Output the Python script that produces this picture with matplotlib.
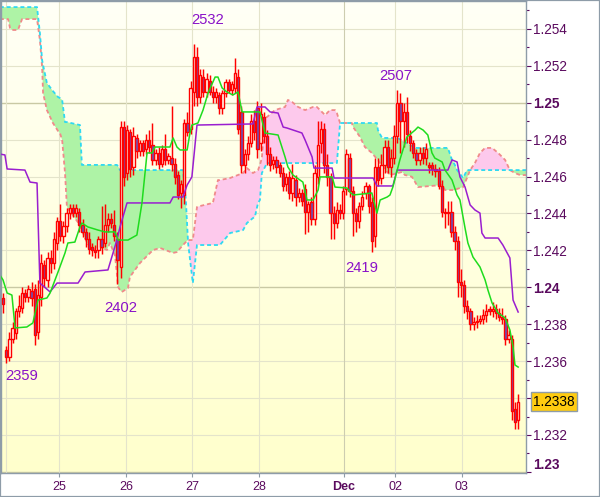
import numpy as np
import matplotlib
matplotlib.use("Agg")
import matplotlib.pyplot as plt
import matplotlib.transforms as mtransforms
from matplotlib import font_manager as fm
from matplotlib.patches import Rectangle

# ---------------- data ----------------
opens = [
    1.2394, 1.2366, 1.2362, 1.2372, 1.2375, 1.2387, 1.2389, 1.2397, 1.2395, 1.2398,
    1.2399, 1.2376, 1.2395, 1.2412, 1.2404, 1.2416, 1.2413, 1.2424, 1.2436, 1.2428,
    1.2433, 1.2440, 1.2443, 1.2440, 1.2441, 1.2434, 1.2430, 1.2426, 1.2422, 1.2420,
    1.2420, 1.2426, 1.2424, 1.2434, 1.2437, 1.2434, 1.2426, 1.2411, 1.2487, 1.2462,
    1.2484, 1.2465, 1.2481, 1.2474, 1.2478, 1.2475, 1.2480, 1.2477, 1.2469, 1.2473,
    1.2467, 1.2475, 1.2469, 1.2470, 1.2467, 1.2461, 1.2451, 1.2450, 1.2489, 1.2486,
    1.2506, 1.2525, 1.2503, 1.2514, 1.2506, 1.2512, 1.2506, 1.2503, 1.2504, 1.2497,
    1.2505, 1.2511, 1.2507, 1.2508, 1.2514, 1.2495, 1.2466, 1.2472, 1.2478, 1.2490,
    1.2497, 1.2478, 1.2492, 1.2482, 1.2472, 1.2467, 1.2469, 1.2466, 1.2462, 1.2456,
    1.2460, 1.2451, 1.2458, 1.2449, 1.2451, 1.2453, 1.2441, 1.2446, 1.2437, 1.2460,
    1.2478, 1.2486, 1.2466, 1.2460, 1.2440, 1.2435, 1.2442, 1.2440, 1.2453, 1.2470,
    1.2452, 1.2440, 1.2436, 1.2444, 1.2451, 1.2455, 1.2446, 1.2428, 1.2465, 1.2459,
    1.2466, 1.2476, 1.2465, 1.2470, 1.2482, 1.2500, 1.2490, 1.2495, 1.2482, 1.2478,
    1.2473, 1.2469, 1.2473, 1.2470, 1.2466, 1.2466, 1.2464, 1.2463, 1.2455, 1.2441,
    1.2440, 1.2441, 1.2430, 1.2425, 1.2403, 1.2401, 1.2390, 1.2387, 1.2380, 1.2381,
    1.2382, 1.2383, 1.2385, 1.2388, 1.2387, 1.2388, 1.2386, 1.2384, 1.2383, 1.2372,
    1.2372, 1.2334, 1.2328,
]
highs = [
    1.2397, 1.2368, 1.2376, 1.2381, 1.2389, 1.2396, 1.2400, 1.2399, 1.2401, 1.2403,
    1.2402, 1.2404, 1.2418, 1.2415, 1.2419, 1.2420, 1.2430, 1.2438, 1.2445, 1.2436,
    1.2443, 1.2445, 1.2445, 1.2445, 1.2443, 1.2437, 1.2432, 1.2430, 1.2424, 1.2423,
    1.2428, 1.2444, 1.2445, 1.2440, 1.2440, 1.2442, 1.2430, 1.2490, 1.2490, 1.2488,
    1.2486, 1.2487, 1.2483, 1.2480, 1.2480, 1.2483, 1.2485, 1.2489, 1.2475, 1.2476,
    1.2477, 1.2483, 1.2473, 1.2498, 1.2470, 1.2463, 1.2458, 1.2491, 1.2495, 1.2512,
    1.2532, 1.2530, 1.2518, 1.2518, 1.2516, 1.2515, 1.2509, 1.2508, 1.2506, 1.2507,
    1.2513, 1.2513, 1.2512, 1.2524, 1.2518, 1.2498, 1.2475, 1.2482, 1.2494, 1.2496,
    1.2501, 1.2500, 1.2495, 1.2485, 1.2476, 1.2471, 1.2471, 1.2468, 1.2465, 1.2462,
    1.2463, 1.2467, 1.2461, 1.2454, 1.2453, 1.2456, 1.2447, 1.2449, 1.2466, 1.2490,
    1.2490, 1.2489, 1.2472, 1.2462, 1.2444, 1.2446, 1.2445, 1.2455, 1.2475, 1.2473,
    1.2455, 1.2443, 1.2446, 1.2452, 1.2457, 1.2456, 1.2449, 1.2470, 1.2470, 1.2472,
    1.2480, 1.2480, 1.2475, 1.2488, 1.2507, 1.2505, 1.2500, 1.2503, 1.2485, 1.2480,
    1.2475, 1.2476, 1.2476, 1.2478, 1.2468, 1.2468, 1.2467, 1.2465, 1.2458, 1.2443,
    1.2447, 1.2447, 1.2433, 1.2428, 1.2410, 1.2404, 1.2393, 1.2389, 1.2384, 1.2385,
    1.2385, 1.2388, 1.2391, 1.2390, 1.2392, 1.2391, 1.2389, 1.2389, 1.2385, 1.2377,
    1.2374, 1.2338, 1.2342,
]
lows = [
    1.2386, 1.2359, 1.2360, 1.2370, 1.2372, 1.2384, 1.2386, 1.2392, 1.2392, 1.2390,
    1.2369, 1.2372, 1.2390, 1.2400, 1.2400, 1.2408, 1.2410, 1.2420, 1.2425, 1.2424,
    1.2430, 1.2437, 1.2438, 1.2438, 1.2430, 1.2427, 1.2422, 1.2418, 1.2417, 1.2416,
    1.2416, 1.2418, 1.2422, 1.2430, 1.2432, 1.2425, 1.2402, 1.2405, 1.2455, 1.2458,
    1.2460, 1.2461, 1.2470, 1.2471, 1.2471, 1.2472, 1.2473, 1.2466, 1.2466, 1.2464,
    1.2465, 1.2466, 1.2467, 1.2463, 1.2456, 1.2448, 1.2443, 1.2445, 1.2482, 1.2483,
    1.2498, 1.2498, 1.2500, 1.2503, 1.2503, 1.2504, 1.2500, 1.2500, 1.2494, 1.2494,
    1.2503, 1.2505, 1.2504, 1.2505, 1.2483, 1.2462, 1.2462, 1.2469, 1.2476, 1.2480,
    1.2470, 1.2474, 1.2478, 1.2466, 1.2463, 1.2464, 1.2462, 1.2460, 1.2452, 1.2452,
    1.2448, 1.2447, 1.2444, 1.2446, 1.2444, 1.2429, 1.2430, 1.2434, 1.2434, 1.2456,
    1.2473, 1.2462, 1.2455, 1.2426, 1.2426, 1.2432, 1.2437, 1.2437, 1.2450, 1.2449,
    1.2428, 1.2430, 1.2432, 1.2442, 1.2448, 1.2440, 1.2419, 1.2422, 1.2455, 1.2456,
    1.2462, 1.2462, 1.2460, 1.2467, 1.2478, 1.2473, 1.2476, 1.2478, 1.2474, 1.2470,
    1.2466, 1.2466, 1.2467, 1.2466, 1.2462, 1.2461, 1.2460, 1.2453, 1.2438, 1.2432,
    1.2434, 1.2427, 1.2420, 1.2395, 1.2395, 1.2386, 1.2383, 1.2377, 1.2377, 1.2378,
    1.2380, 1.2380, 1.2381, 1.2385, 1.2384, 1.2383, 1.2382, 1.2380, 1.2369, 1.2370,
    1.2328, 1.2323, 1.2323,
]
closes = [
    1.2391, 1.2362, 1.2372, 1.2378, 1.2387, 1.2390, 1.2397, 1.2395, 1.2399, 1.2394,
    1.2374, 1.2396, 1.2413, 1.2405, 1.2416, 1.2413, 1.2426, 1.2436, 1.2428, 1.2433,
    1.2440, 1.2443, 1.2440, 1.2443, 1.2434, 1.2430, 1.2426, 1.2421, 1.2420, 1.2419,
    1.2426, 1.2422, 1.2434, 1.2437, 1.2435, 1.2428, 1.2415, 1.2487, 1.2460, 1.2485,
    1.2464, 1.2482, 1.2474, 1.2478, 1.2474, 1.2480, 1.2476, 1.2469, 1.2473, 1.2467,
    1.2475, 1.2469, 1.2471, 1.2467, 1.2460, 1.2450, 1.2456, 1.2489, 1.2484, 1.2508,
    1.2525, 1.2503, 1.2515, 1.2506, 1.2513, 1.2506, 1.2503, 1.2506, 1.2497, 1.2505,
    1.2511, 1.2507, 1.2510, 1.2516, 1.2486, 1.2466, 1.2472, 1.2478, 1.2490, 1.2484,
    1.2475, 1.2494, 1.2482, 1.2472, 1.2466, 1.2469, 1.2465, 1.2462, 1.2455, 1.2460,
    1.2451, 1.2459, 1.2449, 1.2451, 1.2447, 1.2441, 1.2445, 1.2437, 1.2462, 1.2477,
    1.2486, 1.2466, 1.2460, 1.2440, 1.2435, 1.2442, 1.2440, 1.2452, 1.2472, 1.2452,
    1.2440, 1.2436, 1.2444, 1.2449, 1.2455, 1.2444, 1.2425, 1.2465, 1.2458, 1.2466,
    1.2476, 1.2465, 1.2470, 1.2482, 1.2500, 1.2490, 1.2495, 1.2483, 1.2478, 1.2473,
    1.2469, 1.2473, 1.2470, 1.2475, 1.2465, 1.2464, 1.2463, 1.2455, 1.2441, 1.2440,
    1.2441, 1.2430, 1.2425, 1.2403, 1.2401, 1.2390, 1.2387, 1.2380, 1.2381, 1.2382,
    1.2383, 1.2385, 1.2387, 1.2387, 1.2388, 1.2386, 1.2384, 1.2383, 1.2372, 1.2374,
    1.2333, 1.2327, 1.2338,
]

# Tenkan-sen (green) and Kijun-sen (purple): bar position, price
tenkan_x = [-1.0, 0.0, 1.3, 2.8, 3.8, 7.5, 9.4, 11.0, 13.8, 14.8,
            17.3, 19.5, 20.4, 22.6, 24.2, 24.8, 26.7, 29.9, 32.1, 35.2,
            36.2, 39.3, 42.1, 43.7, 45.3, 46.9, 47.8, 52.5, 53.5, 54.7,
            55.7, 57.9, 58.8, 59.4, 61.3, 62.9, 64.5, 66.7, 67.6, 68.9,
            70.4, 72.3, 73.9, 75.2, 80.8, 82.4, 86.5, 88.7, 89.6, 91.2,
            94.3, 95.6, 97.5, 99.1, 99.7, 103.5, 104.4, 108.2, 109.1, 110.1,
            116.0, 117.6, 118.6, 120.8, 121.7, 122.6, 124.8, 127.0, 129.6, 130.5,
            132.1, 133.6, 134.9, 135.8, 138.1, 139.0, 141.2, 142.8, 143.7, 145.3,
            146.2, 147.8, 150.0, 151.6, 152.5, 153.8, 155.7, 157.9, 159.4, 160.4,
            161.0, 162.0]
tenkan_y = [1.24067, 1.24040, 1.23969, 1.23958, 1.23780, 1.23785, 1.23807, 1.23931, 1.23942, 1.23969,
            1.24083, 1.24186, 1.24240, 1.24245, 1.24327, 1.24348, 1.24327, 1.24310, 1.24300, 1.24300,
            1.24256, 1.24256, 1.24283, 1.24457, 1.24728, 1.24728, 1.24760, 1.24760, 1.24809, 1.24760,
            1.24744, 1.24744, 1.24836, 1.24879, 1.24890, 1.24960, 1.25053, 1.25139, 1.25139, 1.25080,
            1.25058, 1.25042, 1.25058, 1.24950, 1.24950, 1.24836, 1.24825, 1.24706, 1.24652, 1.24608,
            1.24570, 1.24473, 1.24473, 1.24527, 1.24598, 1.24598, 1.24543, 1.24538, 1.24516, 1.24500,
            1.24511, 1.24402, 1.24473, 1.24489, 1.24500, 1.24543, 1.24690, 1.24814, 1.24852, 1.24868,
            1.24852, 1.24825, 1.24728, 1.24700, 1.24679, 1.24635, 1.24581, 1.24500, 1.24473, 1.24321,
            1.24240, 1.24164, 1.24110, 1.24040, 1.23985, 1.23915, 1.23861, 1.23834, 1.23769, 1.23677,
            1.23579, 1.23568]

kijun_x = [-1.0, 0.6, 1.3, 6.9, 8.5, 10.7, 11.6, 14.8, 17.0, 23.6,
           25.8, 33.0, 34.6, 35.8, 36.8, 39.0, 52.5, 53.5, 56.6, 57.9,
           59.4, 61.0, 78.6, 79.9, 82.4, 84.0, 86.5, 88.1, 89.3, 94.0,
           95.0, 97.2, 97.8, 103.5, 104.1, 116.4, 117.6, 122.6, 123.9, 139.9,
           141.2, 142.8, 143.7, 145.3, 146.9, 148.4, 150.0, 150.6, 151.6, 155.7,
           157.2, 159.4, 160.4, 162.0]
kijun_y = [1.24722, 1.24717, 1.24641, 1.24635, 1.24570, 1.24565, 1.24023, 1.23975, 1.24023, 1.24023,
           1.24083, 1.24094, 1.24186, 1.24256, 1.24327, 1.24457, 1.24457, 1.24489, 1.24489, 1.24554,
           1.24598, 1.24879, 1.24885, 1.24977, 1.24977, 1.24950, 1.24944, 1.24868, 1.24863, 1.24836,
           1.24798, 1.24706, 1.24646, 1.24646, 1.24592, 1.24592, 1.24549, 1.24549, 1.24635, 1.24635,
           1.24690, 1.24679, 1.24598, 1.24543, 1.24446, 1.24419, 1.24402, 1.24294, 1.24267, 1.24267,
           1.24229, 1.24159, 1.23931, 1.23866]

# Cloud: Senkou span A (cyan) and span B (salmon)
cloud_x = [-1.0, 1.6, 2.2, 2.8, 4.7, 5.3, 6.0, 10.7, 11.6, 12.3,
           12.6, 13.8, 15.7, 17.3, 17.9, 18.6, 19.5, 20.1, 24.2, 24.8,
           26.4, 28.3, 30.5, 32.7, 33.6, 35.2, 35.8, 36.2, 36.8, 37.4,
           39.3, 39.9, 43.1, 47.2, 49.4, 53.5, 54.7, 56.6, 57.5, 58.2,
           59.7, 61.0, 61.9, 66.0, 67.6, 68.2, 71.4, 75.5, 76.7, 78.6,
           79.2, 80.2, 80.8, 81.4, 82.4, 83.0, 85.5, 88.7, 89.6, 90.9,
           92.8, 95.0, 97.5, 98.7, 101.3, 102.8, 104.4, 105.0, 106.0, 109.7,
           110.1, 112.3, 113.8, 116.0, 117.6, 117.9, 119.2, 119.5, 121.7, 124.2,
           125.5, 126.4, 128.0, 128.6, 129.6, 130.5, 138.1, 139.0, 139.9, 141.2,
           142.1, 142.8, 144.7, 145.9, 146.9, 148.4, 150.0, 151.6, 153.8, 155.7,
           157.9, 159.4, 161.0, 162.6, 164.5]
span_a = [1.25518, 1.25518, 1.25518, 1.25518, 1.25518, 1.25518, 1.25518, 1.25518, 1.25378, 1.25231,
          1.25204, 1.25107, 1.25063, 1.25031, 1.25025, 1.25015, 1.24895, 1.24895, 1.24879, 1.24663,
          1.24663, 1.24663, 1.24663, 1.24663, 1.24663, 1.24663, 1.24663, 1.24657, 1.24635, 1.24635,
          1.24635, 1.24635, 1.24635, 1.24635, 1.24635, 1.24635, 1.24635, 1.24635, 1.24473, 1.24240,
          1.24023, 1.24229, 1.24229, 1.24229, 1.24229, 1.24229, 1.24294, 1.24310, 1.24348, 1.24375,
          1.24381, 1.24457, 1.24473, 1.24619, 1.24652, 1.24673, 1.24673, 1.24673, 1.24673, 1.24673,
          1.24673, 1.24673, 1.24673, 1.24673, 1.24673, 1.24673, 1.24673, 1.24673, 1.24890, 1.24890,
          1.24890, 1.24890, 1.24890, 1.24890, 1.24890, 1.24852, 1.24809, 1.24809, 1.24809, 1.24809,
          1.24793, 1.24787, 1.24771, 1.24765, 1.24755, 1.24755, 1.24755, 1.24755, 1.24755, 1.24690,
          1.24663, 1.24635, 1.24592, 1.24635, 1.24635, 1.24635, 1.24635, 1.24635, 1.24635, 1.24635,
          1.24635, 1.24635, 1.24635, 1.24635, 1.24635]
span_b = [1.25453, 1.25453, 1.25405, 1.25394, 1.25394, 1.25421, 1.25453, 1.25453, 1.25340, 1.25193,
          1.25053, 1.24960, 1.24890, 1.24847, 1.24836, 1.24798, 1.24619, 1.24435, 1.24337, 1.24310,
          1.24240, 1.24202, 1.24218, 1.24202, 1.24240, 1.24175, 1.24077, 1.24002, 1.23985, 1.23975,
          1.23996, 1.24056, 1.24132, 1.24202, 1.24213, 1.24186, 1.24191, 1.24229, 1.24245, 1.24256,
          1.24256, 1.24435, 1.24440, 1.24457, 1.24581, 1.24581, 1.24592, 1.24619, 1.24646, 1.24619,
          1.24625, 1.24635, 1.24663, 1.24700, 1.24922, 1.24922, 1.24960, 1.24977, 1.25015, 1.25004,
          1.24977, 1.24960, 1.24977, 1.24977, 1.24933, 1.24960, 1.24960, 1.24944, 1.24890, 1.24890,
          1.24868, 1.24814, 1.24760, 1.24728, 1.24695, 1.24690, 1.24657, 1.24652, 1.24608, 1.24619,
          1.24625, 1.24608, 1.24603, 1.24598, 1.24570, 1.24543, 1.24554, 1.24527, 1.24527, 1.24527,
          1.24527, 1.24533, 1.24543, 1.24592, 1.24635, 1.24673, 1.24728, 1.24755, 1.24755, 1.24728,
          1.24690, 1.24635, 1.24619, 1.24608, 1.24608]

# time axis labels (bar positions) and price levels
day_ticks = [17.6, 38.7, 59.4, 80.5, 107.2, 123.3, 144.3]
day_labels = ["25", "26", "27", "28", "Dec", "02", "03"]
week_start = [0.94]
price_levels = [1.230, 1.232, 1.234, 1.236, 1.238, 1.240, 1.242,
                1.244, 1.246, 1.248, 1.250, 1.252, 1.254]
price_minor = [1.231, 1.233, 1.235, 1.237, 1.239, 1.241, 1.243,
               1.245, 1.247, 1.249, 1.251, 1.253, 1.255]

# marked extremes (bar index, which side)
marked_bars = [1, 36, 60, 116, 124]
marked_side = ["low", "low", "high", "low", "high"]

# ---------------- style ----------------
def has_font(name):
    try:
        fm.findfont(fm.FontProperties(family=name), fallback_to_default=False)
        return True
    except Exception:
        return False

NARROW = has_font("Liberation Sans Narrow")
FONT = "Liberation Sans Narrow" if NARROW else "Liberation Sans"
k = 1.0 if NARROW else 0.82
plt.rcParams["font.family"] = [FONT, "DejaVu Sans"]

LABEL_C = "#5A0A5E"
SPINE_C = "#8E9CA8"

W, H = 600, 497
fig = plt.figure(figsize=(W / 100, H / 100), dpi=100)
fig.patch.set_facecolor("white")
ax = fig.add_axes([1 / W, 24 / H, 525 / W, 472 / H])

x0, x1 = -0.63, 164.47
y0, y1 = 1.22994, 1.25551

# gradient background
g = np.linspace(0, 1, 256)[:, None, None]
top_c = np.array([1.0, 1.0, 0.965])[None, None, :]
bot_c = np.array([1.0, 1.0, 0.80])[None, None, :]
ax.imshow(top_c * (1 - g) + bot_c * g, extent=[x0, x1, y0, y1],
          aspect="auto", origin="upper", zorder=0, interpolation="bilinear")

# grid
for v in price_levels:
    major = abs(v * 100 - round(v * 100)) < 1e-7
    ax.axhline(v, color="#C9C9A4" if major else "#E4E4CB",
               lw=1.0 if major else 0.8, zorder=0.5)
for xv, lab in zip(day_ticks, day_labels):
    ax.axvline(xv, color="#CDCDB0" if lab == "Dec" else "#E4E4CB", lw=0.8, zorder=0.5)
for xv in week_start:
    ax.axvline(xv, color="#E4E4CB", lw=0.8, zorder=0.5)

# cloud
cx = np.array(cloud_x)
a = np.array(span_a)
b = np.array(span_b)
ax.fill_between(cx, a, b, where=a >= b, interpolate=True,
                facecolor="#AEF3A6", edgecolor="none", zorder=1)
ax.fill_between(cx, a, b, where=a <= b, interpolate=True,
                facecolor="#FDC9EC", edgecolor="none", zorder=1)
ax.plot(cx, b, color="#F08A8A", lw=1.3, ls=(0, (2.2, 1.6)), zorder=2)
ax.plot(cx, a, color="#2FD9F2", lw=1.3, ls=(0, (2.2, 1.6)), zorder=2)

# candles
o = np.array(opens)
h = np.array(highs)
l = np.array(lows)
c = np.array(closes)
idx = np.arange(len(o))
up = c >= o
lo_body = np.minimum(o, c)
hgt = np.maximum(np.abs(c - o), 0.00003)
ax.vlines(idx, np.minimum(l, lo_body), np.maximum(h, np.maximum(o, c)),
          color="#FF0000", lw=1.05, zorder=3)
ax.bar(idx[up], hgt[up], bottom=lo_body[up], width=0.72,
       facecolor="#FFFFF2", edgecolor="#FF0000", linewidth=1.0, zorder=3.5)
ax.bar(idx[~up], hgt[~up], bottom=lo_body[~up], width=0.72,
       facecolor="#6E50B8", edgecolor="#FF0000", linewidth=1.0, zorder=3.5)

# Kijun / Tenkan
ax.plot(kijun_x, kijun_y, color="#9A1ECF", lw=1.1, zorder=4)
ax.plot(tenkan_x, tenkan_y, color="#1EDC1E", lw=1.1, zorder=4.1)

# extreme labels
label_offsets = [(15, -13), (3, -24), (14, 24), (-10, -16), (-2, 14)]
for bar, side, (dx, dy) in zip(marked_bars, marked_side, label_offsets):
    v = lows[bar] if side == "low" else highs[bar]
    txt = f"{int(round(v * 10000)) % 10000:04d}"
    ax.annotate(txt, xy=(bar, v), xytext=(dx, dy), textcoords="offset pixels",
                ha="center", va="center", color="#8A12C8",
                fontsize=13 * k, zorder=6)

ax.set_xlim(x0, x1)
ax.set_ylim(y0, y1)

# spines
for s in ax.spines.values():
    s.set_color(SPINE_C)
    s.set_linewidth(1.0)

# y axis on the right
ax.yaxis.tick_right()
ax.set_yticks(price_levels)
ylabels = []
for v in price_levels:
    if abs(v - closes[-1]) < 0.0008:
        ylabels.append("")
    else:
        ylabels.append(f"{v:.3f}".rstrip("0"))
ax.set_yticklabels(ylabels)
ax.set_yticks(price_minor, minor=True)
ax.tick_params(axis="y", which="major", length=3.6, width=0.8, color=LABEL_C,
               pad=1.5, labelsize=12 * k, labelcolor=LABEL_C)
ax.tick_params(axis="y", which="minor", length=2.2, width=0.8, color=LABEL_C)
for lbl, v in zip(ax.yaxis.get_majorticklabels(), price_levels):
    if abs(v * 100 - round(v * 100)) < 1e-7:
        lbl.set_fontweight("bold")
    if abs(v - y0) < 0.0005:
        lbl.set_verticalalignment("bottom")

# x axis
ax.set_xticks(day_ticks)
ax.set_xticklabels(day_labels)
ax.tick_params(axis="x", which="major", length=2.9, width=0.8, color=SPINE_C,
               pad=2.5, labelsize=11 * k, labelcolor=LABEL_C)
for lbl, lab in zip(ax.xaxis.get_majorticklabels(), day_labels):
    if lab == "Dec":
        lbl.set_fontweight("bold")

# last price tag
trans = mtransforms.blended_transform_factory(ax.transAxes, ax.transData)
ax.text(1.0135, closes[-1], f"{closes[-1]:.4f}", transform=trans,
        ha="left", va="center", fontsize=12 * k, color="black",
        bbox=dict(boxstyle="square,pad=0.18", fc="#FFCC10", ec=SPINE_C, lw=1.0),
        clip_on=False, zorder=10)

# outer frame
fig.add_artist(Rectangle((0, 0), 1, 1, transform=fig.transFigure, fill=False,
                         ec=SPINE_C, lw=1.6))

fig.savefig("out.png", dpi=100)
